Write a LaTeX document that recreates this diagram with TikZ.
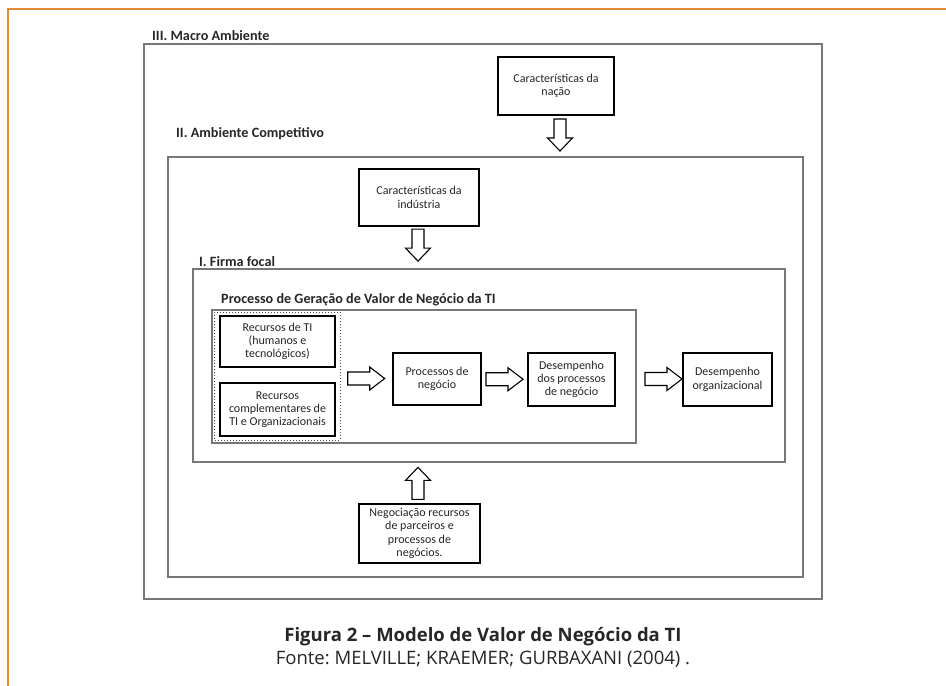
\documentclass[tikz,border=0pt]{standalone}
\usepackage{fontspec}
\setmainfont{Carlito}
\newfontfamily\capfont{Open Sans}
\usetikzlibrary{calc}
\definecolor{orangeline}{HTML}{E58A33}
\definecolor{framegray}{HTML}{777777}
\tikzset{
  frame/.style={draw=framegray, line width=1.3pt},
  boxnode/.style={draw=black, line width=1.2pt, fill=white, align=center, inner sep=1pt,
    font=\fontsize{12}{13.3}\selectfont, text=black!85},
  titlelabel/.style={anchor=west, inner sep=0pt, font=\bfseries\fontsize{14.2}{16}\selectfont, text=black!85},
  arrowline/.style={draw=black, line width=1.1pt, fill=white, line join=miter},
  rarrow/.pic={\path[arrowline] (-18.5,-6.5)--(3.5,-6.5)--(3.5,-11.5)--(18.5,0)--(3.5,11.5)--(3.5,6.5)--(-18.5,6.5)--cycle;},
  darrow/.pic={\path[arrowline] (-6,-16)--(-6,3)--(-12.5,3)--(0,16)--(12.5,3)--(6,3)--(6,-16)--cycle;},
  uarrow/.pic={\path[arrowline] (-6,16)--(-6,-3)--(-12.5,-3)--(0,-16)--(12.5,-3)--(6,-3)--(6,16)--cycle;}
}
\begin{document}
\begin{tikzpicture}[x=1pt,y=-1pt]
\useasboundingbox (0,0) rectangle (946,686);
% page frame
\draw[orangeline, line width=1.3pt] (8,686) -- (8,9) -- (946,9);
% frames
\draw[frame] (144,44) rectangle (822,599);
\draw[frame] (168,157) rectangle (803,577);
\draw[frame] (193,269) rectangle (785,462);
\draw[frame, line width=1.1pt] (212,310) rectangle (636,443);
\draw[black!70, line width=1pt, dotted] (214,312) rectangle (340,440);
\coordinate (dotE) at (340,378);
% titles
\node[titlelabel] (t3) at (152,36) {III. Macro Ambiente};
\node[titlelabel] (t2) at (176,134) {II. Ambiente Competitivo};
\node[titlelabel] (t1) at (199,262) {I. Firma focal};
\node[titlelabel] (t0) at (221,300) {Processo de Geração de Valor de Negócio da TI};
% boxes
\node[boxnode, minimum width=116pt, minimum height=58pt] (nacao) at (556,86) {Características da\\nação};
\node[boxnode, minimum width=120pt, minimum height=57pt] (industria) at (419,197.5) {Características da\\indústria};
\node[boxnode, minimum width=115pt, minimum height=51pt] (rti) at (277.5,341.5) {Recursos de TI\\(humanos e\\tecnológicos)};
\node[boxnode, minimum width=115pt, minimum height=53pt] (rcomp) at (277.5,409.5) {Recursos\\complementares de\\TI e Organizacionais};
\node[boxnode, minimum width=88pt, minimum height=52pt] (proc) at (437,379) {Processos de\\negócio};
\node[boxnode, minimum width=87pt, minimum height=53pt] (desp) at (571.5,379.5) {Desempenho\\dos processos\\de negócio};
\node[boxnode, minimum width=89pt, minimum height=53pt] (deso) at (727.5,379.5) {Desempenho\\organizacional};
\node[boxnode, minimum width=121pt, minimum height=59pt] (neg) at (419.5,533.5) {Negociação recursos\\de parceiros e\\processos de\\negócios.};
% block arrows
\pic at (560,135) {darrow};
\pic at ($(industria.south)+(-1,18.5)$) {darrow};
\pic at ($(dotE)!0.5!(proc.west)$) {rarrow};
\pic at ($(proc.east)!0.5!(desp.west)$) {rarrow};
\pic at (663.5,379) {rarrow};
\pic at ($(neg.north)+(-1.5,-20)$) {uarrow};
% caption
\node[font=\capfont\bfseries\fontsize{18.5}{20}\selectfont, text=black!85] (cap) at (483,637) {Figura 2 – Modelo de Valor de Negócio da TI};
\node[font=\capfont\fontsize{18.5}{20}\selectfont\frenchspacing, text=black!85] (src) at (483,659) {Fonte: MELVILLE; KRAEMER; GURBAXANI (2004) .};
\end{tikzpicture}
\end{document}
